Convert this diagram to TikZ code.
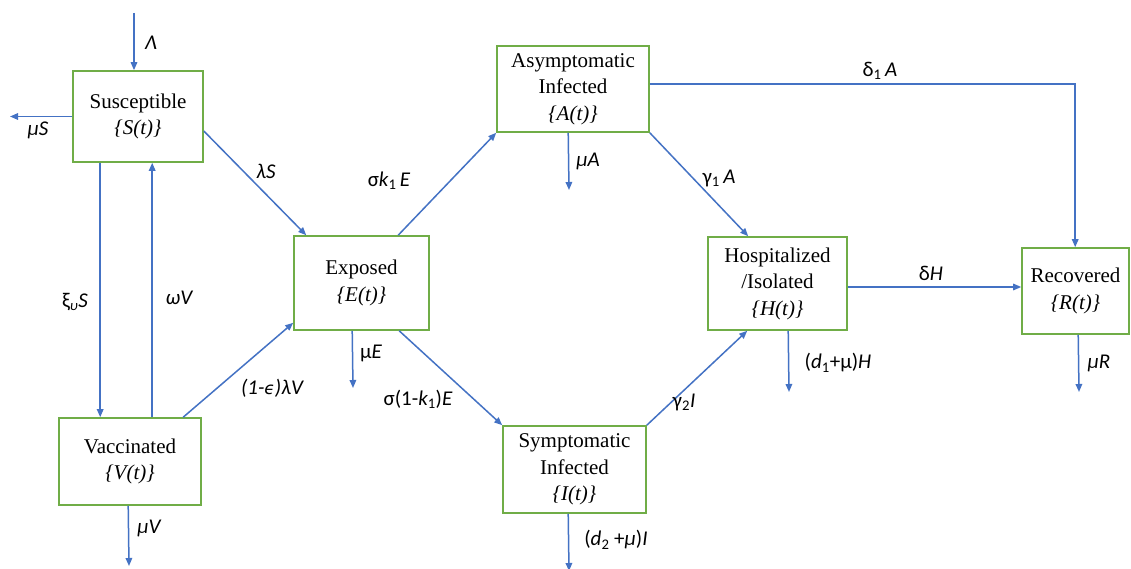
\documentclass[tikz,border=0pt]{standalone}
\usepackage{fontspec}
\setmainfont{Liberation Serif}
\newfontfamily\lab{Carlito}
\newfontfamily\djv{DejaVu Sans}
\usetikzlibrary{arrows.meta}
\definecolor{boxgreen}{RGB}{112,173,71}
\definecolor{arrblue}{RGB}{68,114,196}
\newcommand{\sbs}[1]{\textsubscript{\upshape #1}}
\begin{document}
\begin{tikzpicture}[x=1pt,y=-1pt,
  box/.style={draw=boxgreen,line width=1.6pt,align=center,inner sep=0pt,font=\fontsize{21}{26.5}\selectfont},
  arr/.style={draw=arrblue,line width=1.5pt,-{Triangle[length=8pt,width=6.5pt]}},
  lbl/.style={font=\lab\fontsize{21}{23}\selectfont\itshape,inner sep=0pt}]
\useasboundingbox (0,0) rectangle (1131,569);
\fill[white] (0,0) rectangle (1131,569);
% boxes
\node[box,minimum width=130pt,minimum height=91pt] (S) at (138,116.5) {Susceptible\\\textit{\{S(t)\}}};
\node[box,minimum width=142pt,minimum height=87pt] (V) at (130,461.5) {Vaccinated\\\textit{\{V(t)\}}};
\node[box,minimum width=135pt,minimum height=94pt] (E) at (361.5,283) {Exposed\\\textit{\{E(t)\}}};
\node[box,minimum width=152pt,minimum height=86pt] (A) at (573,89) {Asymptomatic\\Infected\\\textit{\{A(t)\}}};
\node[box,minimum width=143pt,minimum height=87pt] (I) at (574.5,469.5) {Symptomatic\\Infected\\\textit{\{I(t)\}}};
\node[box,minimum width=139pt,minimum height=93pt] (H) at (777.5,283.5) {Hospitalized\\/Isolated\\\textit{\{H(t)\}}};
\node[box,minimum width=107pt,minimum height=86pt] (R) at (1075.5,291) {Recovered\\\textit{\{R(t)\}}};
% free ends
\coordinate (lamin) at (134,13);
\coordinate (muSend) at (10,116.5);
\coordinate (muEend) at (353,388);
\coordinate (muAend) at (569,190);
\coordinate (muIend) at (569,571);
\coordinate (muHend) at (789,392);
\coordinate (muRend) at (1079,392);
\coordinate (muVend) at (129,566);
% connectors
\draw[arr] (lamin) -- (lamin |- S.north);
\draw[arr] (S.west) -- (muSend);
\draw[arr] ([xshift=28pt]S.south west) -- ([xshift=42pt]V.north west);
\draw[arr] ([xshift=94pt]V.north west) -- ([xshift=80pt]S.south west);
\draw[arr] ([yshift=-14.5pt]S.east) -- ([xshift=13pt]E.north west);
\draw[arr] ([xshift=125pt]V.north west) -- ([yshift=8pt]E.south west);
\draw[arr] ([xshift=105pt]E.north west) -- (A.south west);
\draw[arr] ([xshift=59pt]E.south west) -- (muEend);
\draw[arr] ([xshift=106pt]E.south west) -- (I.north west);
\draw[arr] ([xshift=72pt]A.south west) -- (muAend);
\draw[arr] (A.south east) -- ([xshift=41pt]H.north west);
\draw[arr] (I.north east) -- ([xshift=40pt]H.south west);
\draw[arr] ([xshift=66pt]I.south west) -- (muIend);
\draw[arr] ([yshift=5pt]A.east) -| ([xshift=54pt]R.north west);
\draw[arr] ([yshift=-3.5pt]H.east) -- ([yshift=-3.5pt]H.east -| R.west);
\draw[arr] ([xshift=81pt]H.south west) -- (muHend);
\draw[arr] ([xshift=57pt]R.south west) -- (muRend);
\draw[arr] ([xshift=70pt]V.south west) -- (muVend);
% labels
\node[lbl] (lLam) at (151,43) {Λ};
\node[lbl] (lmuS) at (38,130) {μS};
\node[lbl] (lxi) at (75,302) {{\upshape ξ}\textsubscript{υ}S};
\node[lbl] (lom) at (179,298) {ωV};
\node[lbl] (llS) at (266,171) {λS};
\node[lbl] (llV) at (272,388) {(1-{\djv\fontsize{17}{18}\selectfont ϵ})λV};
\node[lbl] (lsk) at (389,181) {{\upshape σ}k\sbs{1}\,E};
\node[lbl] (lmuE) at (371,353) {{\upshape μ}E};
\node[lbl] (lsk2) at (418,399) {{\upshape σ(1-}k\sbs{1}{\upshape )}E};
\node[lbl] (lmuA) at (588,161) {μA};
\node[lbl] (lg1) at (719,178) {{\upshape γ}\sbs{1}\,A};
\node[lbl] (lg2) at (684,402) {{\upshape γ}\sbs{2}I};
\node[lbl] (ld2) at (616,540) {{\upshape (}d\sbs{2} {\upshape +}μ{\upshape )}I};
\node[lbl] (ld1A) at (880,71) {{\upshape δ}\sbs{1}\,A};
\node[lbl] (ldH) at (931,273) {{\upshape δ}H};
\node[lbl] (ld1) at (838,363) {{\upshape (}d\sbs{1}{\upshape +μ)}H};
\node[lbl] (lmuR) at (1099,363) {μR};
\node[lbl] (lmuV) at (149,528) {μV};
\end{tikzpicture}
\end{document}
